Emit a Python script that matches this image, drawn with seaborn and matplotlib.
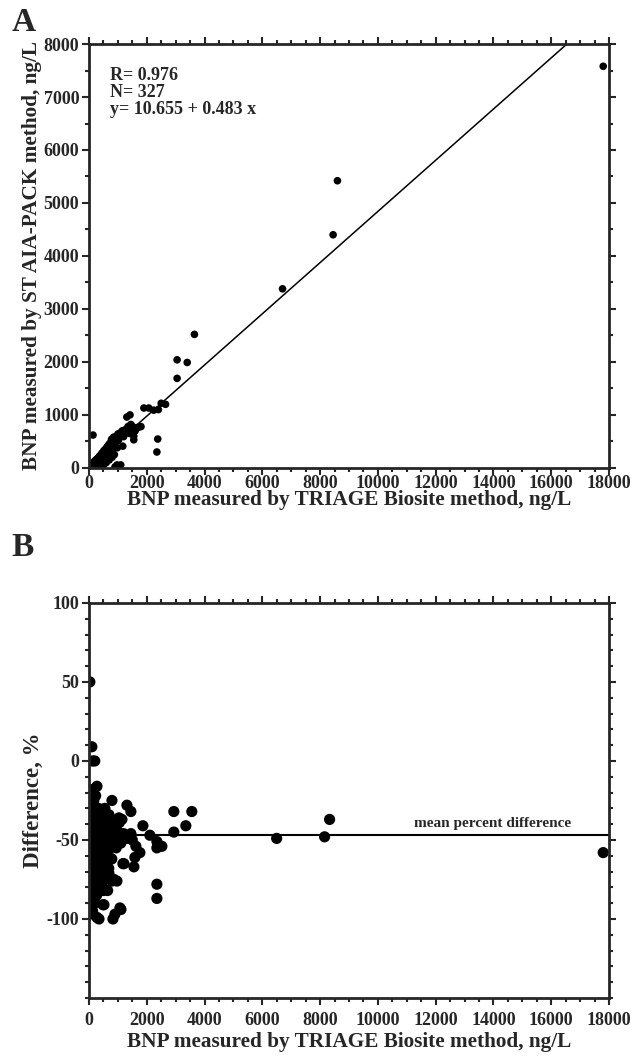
import matplotlib
matplotlib.use("Agg")
import matplotlib.pyplot as plt
import seaborn as sns
import numpy as np
import pandas as pd
from matplotlib.ticker import MultipleLocator

# --- Panel A: AIA-PACK vs TRIAGE ---
a_x = [17800, 8600, 8450, 6700, 3650, 3050, 3400, 3050, 2500, 2650, 2400, 1900, 2070, 2240,
       1420, 1310, 140, 2380, 2350, 1550, 1730, 1490, 1170, 970, 1100, 900,
       30, 50, 60, 80, 90, 100, 110, 120, 130, 150, 160, 170, 180, 200, 210, 220, 240, 250,
       260, 280, 300, 310, 320, 340, 350, 360, 380, 400, 410, 420, 440, 450, 460, 480, 500,
       510, 520, 540, 550, 570, 580, 600, 620, 640, 650, 660, 680, 700, 720, 740, 750, 760,
       780, 800, 820, 850, 860, 880, 900, 920, 950, 980, 1000, 1020, 1050, 1080, 1150, 1200,
       1250, 1300, 1350, 1400, 1450, 1500, 1550, 1600, 1650, 1800,
       40, 70, 100, 150, 200, 250, 300, 350, 400, 450, 500, 550, 600, 700, 800, 200, 260,
       330, 420, 520, 620, 720]
a_y = [7580, 5420, 4400, 3380, 2520, 2040, 1990, 1690, 1220, 1200, 1100, 1130, 1130, 1090,
       1000, 960, 620, 545, 300, 530, 770, 790, 410, 56, 56, 19,
       10, 25, 5, 40, 60, 20, 70, 45, 90, 30, 110, 60, 95, 130, 50, 100, 150, 80,
       120, 170, 140, 60, 190, 110, 210, 160, 230, 180, 120, 250, 200, 280, 150, 240, 300,
       210, 330, 260, 180, 320, 360, 280, 390, 230, 330, 420, 300, 450, 370, 260, 480, 400,
       540, 350, 500, 580, 440, 250, 560, 480, 600, 380, 640, 520, 600, 660, 700, 590,
       720, 680, 780, 650, 820, 750, 600, 700, 760, 780,
       5, 15, 0, 10, 20, 30, 40, 50, 30, 70, 60, 90, 100, 150, 200, 40, 60,
       90, 110, 140, 170, 200]
fit_a, fit_b = 10.655, 0.483
stats_text = "R= 0.976\nN= 327\ny= 10.655 + 0.483 x"

# --- Panel B: percent difference ---
b_x = [30, 100, 120, 200, 276, 795, 1313, 1451, 1140, 1866, 2108, 2937, 3559, 3352, 2937,
       6496, 8155, 8328, 2350, 2522, 2350, 1624, 1762, 1590, 1555, 1175, 2350, 2350, 967,
       795, 690, 484, 1106, 898, 829, 346, 138, 138, 17800, 898, 1037, 1451, 1210, 864,
       518, 1071, 276, 104,
       20, 40, 60, 80, 100, 120, 140, 160, 180, 200, 30, 50, 70, 90, 110, 130, 150, 170,
       190, 210, 230, 250, 270, 290, 310, 330, 350, 370, 390, 410, 430, 450, 470, 490, 510,
       530, 550, 570, 590, 610, 630, 650, 670, 690, 710, 730, 750, 770, 790, 820, 850, 880,
       910, 940, 970, 1000, 1050, 1100, 1200, 1300, 1400, 1500,
       15, 25, 35, 45, 55, 65, 75, 85, 95, 105, 115, 125, 135, 145, 155, 165, 175, 185, 195,
       205, 215, 225, 235, 245, 255, 265, 275, 285, 295, 305, 315, 325, 345, 365, 385, 405,
       425, 445, 465, 485, 505, 525, 545, 565, 585, 605, 625, 645, 665, 685, 10, 12, 18, 22,
       28, 8, 5]
b_y = [50, 9, 0, 0, -16, -25, -28, -32, -37, -41, -47, -32, -32, -41, -45,
       -49, -48, -37, -51, -54, -55, -54, -58, -61, -67, -65, -78, -87, -76,
       -76, -71, -91, -94, -97, -100, -100, -97, -88, -58, -42, -36, -46, -65, -75,
       -91, -93, -99, -96,
       -20, -35, -50, -65, -80, -28, -42, -58, -72, -90, -25, -45, -60, -75, -85, -18, -33, -48,
       -63, -78, -22, -38, -52, -68, -83, -30, -45, -55, -70, -40, -50, -62, -35, -47, -58,
       -72, -30, -44, -53, -66, -40, -50, -60, -34, -46, -55, -39, -49, -62, -45, -52, -40,
       -48, -55, -44, -50, -39, -52, -46, -49, -47, -50,
       -40, -55, -70, -85, -30, -45, -90, -20, -35, -50, -65, -95, -75, -55, -85, -25, -40, -80, -50,
       -65, -35, -55, -75, -45, -60, -85, -30, -42, -58, -48, -70, -62, -80, -38, -52, -66,
       -78, -44, -56, -68, -82, -48, -60, -75, -42, -70, -56, -82, -45, -68, -60, -75, -88, -30,
       -50, -45, -65]
mean_diff = -47

df_a = pd.DataFrame({"x": a_x, "y": a_y})
df_b = pd.DataFrame({"x": b_x, "y": b_y})
line_x = np.array([0, 18000])
df_fit = pd.DataFrame({"x": line_x, "y": fit_a + fit_b * line_x})
df_mean = pd.DataFrame({"x": line_x, "y": [mean_diff, mean_diff]})

sns.set_style("ticks")
plt.rcParams['font.family'] = ['Liberation Serif', 'DejaVu Serif']
plt.rcParams['font.weight'] = 'bold'

fig = plt.figure(figsize=(6.32, 10.61), dpi=100)
ax1 = fig.add_axes([0.1408, 0.559, 0.8228, 0.3995])
ax2 = fig.add_axes([0.1408, 0.0594, 0.8228, 0.3723])

sns.scatterplot(data=df_a, x="x", y="y", ax=ax1, color="black", s=30, edgecolor="none")
sns.lineplot(data=df_fit, x="x", y="y", ax=ax1, color="black", lw=1.1)
ax1.set_xlim(0, 18000)
ax1.set_ylim(0, 8000)
ax1.xaxis.set_major_locator(MultipleLocator(2000))
ax1.xaxis.set_minor_locator(MultipleLocator(500))
ax1.yaxis.set_major_locator(MultipleLocator(1000))
ax1.yaxis.set_minor_locator(MultipleLocator(500))
ax1.text(0.04, 0.945, stats_text, transform=ax1.transAxes, fontsize=13,
         fontweight="bold", va="top", linespacing=1.0)
ax1.set_xlabel("BNP measured by TRIAGE Biosite method, ng/L", fontsize=15.3,
               fontweight="bold", labelpad=-1)
ax1.set_ylabel("BNP measured by ST AIA-PACK method, ng/L", fontsize=15.3,
               fontweight="bold", labelpad=1)

sns.scatterplot(data=df_b, x="x", y="y", ax=ax2, color="black", s=65, edgecolor="none")
sns.lineplot(data=df_mean, x="x", y="y", ax=ax2, color="black", lw=1.5)
ax2.set_xlim(0, 18000)
ax2.set_ylim(-150, 100)
ax2.xaxis.set_major_locator(MultipleLocator(2000))
ax2.xaxis.set_minor_locator(MultipleLocator(500))
ax2.yaxis.set_major_locator(MultipleLocator(50))
ax2.yaxis.set_minor_locator(MultipleLocator(10))
ax2.set_yticks([-100, -50, 0, 50, 100])
ax2.set_yticklabels(["-100", "-50", "0", "50", "100"])
ax2.text(16690, mean_diff + 3, "mean percent difference", fontsize=11,
         fontweight="bold", ha="right", va="bottom")
ax2.set_xlabel("BNP measured by TRIAGE Biosite method, ng/L", fontsize=15.3,
               fontweight="bold", labelpad=2)
ax2.set_ylabel("Difference, %", fontsize=16.5, fontweight="bold", labelpad=2)

for ax in (ax1, ax2):
    for sp in ax.spines.values():
        sp.set_linewidth(2)
        sp.set_visible(True)
    ax.tick_params(which="both", direction="out", top=True, right=True,
                   labeltop=False, labelright=False, width=1.5, labelsize=13, pad=2)
    ax.tick_params(which="major", length=5)
    ax.tick_params(which="minor", length=3)
    for lab in ax.get_xticklabels() + ax.get_yticklabels():
        lab.set_fontweight("bold")
    ax.set_xticklabels([str(int(v)) for v in ax.get_xticks()])

ax1.tick_params(axis="x", which="both", pad=0)
ax2.tick_params(axis="x", which="both", pad=5)

fig.text(0.018, 0.993, "A", fontsize=24, fontweight="bold", va="top")
fig.text(0.018, 0.499, "B", fontsize=24, fontweight="bold", va="top")

fig.savefig("out.png", dpi=100)
